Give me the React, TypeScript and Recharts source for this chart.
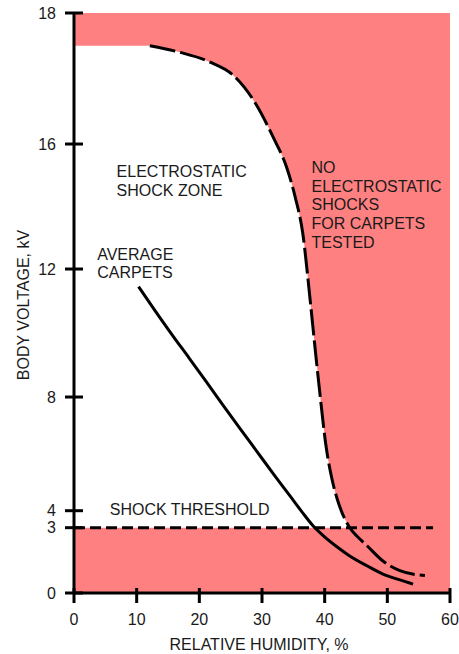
import React from 'react'
import {
  ComposedChart,
  Area,
  Line,
  XAxis,
  YAxis,
  ReferenceArea,
  ReferenceLine,
  ReferenceDot,
} from 'recharts'

// relative humidity, %
const humidityTicks = [0, 10, 20, 30, 40, 50, 60]
// body voltage tick labels, kV -- the printed axis is not evenly spaced
const voltageTicks = [0, 3, 4, 8, 12, 16, 18]
// how far up the axis each of those labels sits (share of axis height)
const voltageTickSpots = [0, 0.1126, 0.1419, 0.3379, 0.5586, 0.7741, 1]

// dashed edge of the shock zone
const boundaryHumidity = [12.1, 16.9, 21.7, 25.4, 28.9, 31.8, 33.9, 35.3, 36.5, 37.7, 38.5, 39.3, 40.2, 41.2, 42.0, 42.8, 44.0, 45.3, 46.8, 49.3, 52.0, 56.0]
const boundaryVoltage = [17.5, 17.4, 17.25, 17.05, 16.63, 16.1, 15.27, 14.3, 13.15, 11.0, 9.47, 8.0, 6.3, 5.08, 4.41, 3.86, 3.0, 2.57, 2.16, 1.47, 1.03, 0.8]

// average carpets
const carpetHumidity = [10.3, 12.9, 15.6, 18.4, 21.1, 23.8, 26.5, 29.2, 31.9, 34.5, 36.4, 38.1, 39.9, 42.0, 44.0, 46.8, 49.3, 52.0, 54.1]
const carpetVoltage = [11.45, 10.71, 9.96, 9.21, 8.48, 7.71, 6.89, 6.08, 5.27, 4.51, 3.92, 3.13, 2.6, 2.11, 1.7, 1.24, 0.87, 0.6, 0.41]

const shockThreshold = 3
const zoneTop = 17.5
const thresholdEnd = 57.3

const notes = [
  { h: 6.8, kv: 14.95, lines: ['ELECTROSTATIC', 'SHOCK ZONE'] },
  { h: 3.7, kv: 12.3, lines: ['AVERAGE', 'CARPETS'] },
  { h: 37.9, kv: 15.08, lines: ['NO', 'ELECTROSTATIC', 'SHOCKS', 'FOR CARPETS', 'TESTED'] },
  { h: 5.7, kv: 3.75, lines: ['SHOCK THRESHOLD'] },
]

const FONT = '"Liberation Sans", Arial, sans-serif'
const INK = '#1a1a1a'
const PINK = '#ff8080'

// piecewise map kV -> position on the drawn axis
function toAxis(kv: number) {
  for (let i = 1; i < voltageTicks.length; i++) {
    if (kv <= voltageTicks[i] || i === voltageTicks.length - 1) {
      const a = voltageTicks[i - 1]
      const b = voltageTicks[i]
      const t = (kv - a) / (b - a)
      return voltageTickSpots[i - 1] + t * (voltageTickSpots[i] - voltageTickSpots[i - 1])
    }
  }
  return 0
}

const boundaryData = boundaryHumidity.map((h, i) => ({ h, v: toAxis(boundaryVoltage[i]) }))
const carpetData = carpetHumidity.map((h, i) => ({ h, v: toAxis(carpetVoltage[i]) }))
const zoneData = [
  { h: 0, band: [toAxis(shockThreshold), toAxis(zoneTop)] },
  ...boundaryHumidity
    .map((h, i) => ({ h, kv: boundaryVoltage[i] }))
    .filter((p) => p.kv >= shockThreshold)
    .map((p) => ({ h: p.h, band: [toAxis(shockThreshold), toAxis(p.kv)] })),
]

function YTick(props: any) {
  const { x, y, index } = props
  return (
    <g>
      <line x1={x - 9} x2={x + 9} y1={y} y2={y} stroke="#000" strokeWidth={3} />
      <text x={x - 18} y={y} dy={5.5} textAnchor="end" fontSize={16} fontFamily={FONT} fill={INK}>
        {voltageTicks[index]}
      </text>
    </g>
  )
}

function XTick(props: any) {
  const { x, y, payload } = props
  return (
    <g>
      <line x1={x} x2={x} y1={y - 5} y2={y + 10} stroke="#000" strokeWidth={3} />
      <text x={x} y={y + 32} textAnchor="middle" fontSize={16} fontFamily={FONT} fill={INK}>
        {payload.value}
      </text>
    </g>
  )
}

function Note({ cx, cy, lines }: any) {
  return (
    <text x={cx} y={cy} fontSize={16} fontFamily={FONT} fill={INK}>
      {lines.map((l: string, i: number) => (
        <tspan key={i} x={cx} dy={i === 0 ? 0 : 18.8}>
          {l}
        </tspan>
      ))}
    </text>
  )
}

export default function App() {
  return (
    <div>
      <style>{'body { margin: 0; }'}</style>
      <ComposedChart width={459} height={654} margin={{ top: 13, right: 9, bottom: 1, left: 0 }}>
        <ReferenceArea x1={0} x2={60} y1={0} y2={1} fill={PINK} fillOpacity={1} stroke="none" />
        <Area
          data={zoneData}
          dataKey="band"
          type="monotone"
          fill="#fff"
          fillOpacity={1}
          stroke="none"
          isAnimationActive={false}
        />
        <ReferenceLine
          segment={[
            { x: 0, y: toAxis(shockThreshold) },
            { x: thresholdEnd, y: toAxis(shockThreshold) },
          ]}
          stroke="#000"
          strokeWidth={3}
          strokeDasharray="11 5"
        />
        <Line
          data={boundaryData}
          dataKey="v"
          type="monotone"
          stroke="#000"
          strokeWidth={3}
          strokeDasharray="26 5"
          dot={false}
          activeDot={false}
          isAnimationActive={false}
        />
        <Line
          data={carpetData}
          dataKey="v"
          type="monotone"
          stroke="#000"
          strokeWidth={3}
          dot={false}
          activeDot={false}
          isAnimationActive={false}
        />
        {notes.map((n, i) => (
          <ReferenceDot
            key={i}
            x={n.h}
            y={toAxis(n.kv)}
            r={0}
            ifOverflow="visible"
            shape={(p: any) => <Note cx={p.cx} cy={p.cy} lines={n.lines} />}
          />
        ))}
        <XAxis
          dataKey="h"
          type="number"
          domain={[0, 60]}
          ticks={humidityTicks}
          interval={0}
          allowDataOverflow
          height={60}
          axisLine={{ stroke: '#000', strokeWidth: 3 }}
          tickLine={false}
          tickSize={0}
          tickMargin={0}
          tick={<XTick />}
          label={(p: any) => (
            <text
              x={p.viewBox.x + p.viewBox.width / 2 - 3}
              y={p.viewBox.y + 57}
              textAnchor="middle"
              fontSize={16}
              fontFamily={FONT}
              fill={INK}
            >
              RELATIVE HUMIDITY, %
            </text>
          )}
        />
        <YAxis
          type="number"
          domain={[0, 1]}
          ticks={voltageTicks.map(toAxis)}
          interval={0}
          allowDataOverflow
          width={74}
          axisLine={{ stroke: '#000', strokeWidth: 3 }}
          tickLine={false}
          tickSize={0}
          tickMargin={0}
          tick={<YTick />}
          label={(p: any) => {
            const cx = p.viewBox.x + 29
            const cy = p.viewBox.y + p.viewBox.height / 2 + 2
            return (
              <text
                x={cx}
                y={cy}
                transform={`rotate(-90 ${cx} ${cy})`}
                textAnchor="middle"
                fontSize={16}
                fontFamily={FONT}
                fill={INK}
              >
                BODY VOLTAGE, kV
              </text>
            )
          }}
        />
      </ComposedChart>
    </div>
  )
}
